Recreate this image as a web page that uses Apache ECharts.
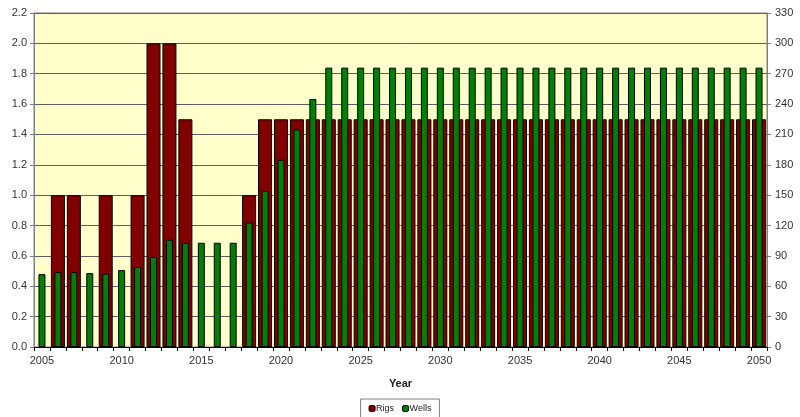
<!DOCTYPE html>
<html>
<head>
<meta charset="utf-8">
<script src="https://cdn.jsdelivr.net/npm/echarts@6/dist/echarts.min.js"></script>
<style>html,body{margin:0;padding:0;background:#fff}#c{width:800px;height:417px}</style>
</head>
<body>
<div id="c"></div>
<script>
var years = [];
for (var y = 2005; y <= 2050; y++) years.push(String(y));
var rigs = [0,1,1,0,1,0,1,2,2,1.5,0,0,0,1,1.5,1.5,1.5,1.5,1.5,1.5,1.5,1.5,1.5,1.5,1.5,1.5,1.5,1.5,1.5,1.5,1.5,1.5,1.5,1.5,1.5,1.5,1.5,1.5,1.5,1.5,1.5,1.5,1.5,1.5,1.5,1.5];
var wells = [72,74,74,73,72.5,76,79,89,106,103,103,103,103,123,154,185,215,245,276,276,276,276,276,276,276,276,276,276,276,276,276,276,276,276,276,276,276,276,276,276,276,276,276,276,276,276];
var leftTicks = {min:0, max:2.2, interval:0.2};
var rightTicks = {min:0, max:330, interval:30};

var font = 'Liberation Sans, Arial, sans-serif';
var chart = echarts.init(document.getElementById('c'), null, {renderer:'canvas'});
chart.setOption({
  animation:false,
  backgroundColor:'#ffffff',
  grid:{left:34, right:33, top:13, bottom:70, show:true, backgroundColor:'#FFFFCC', borderColor:'#808080', borderWidth:1},
  legend:{
    bottom:-4, left:'center', itemWidth:6, itemHeight:6, itemGap:8,
    borderColor:'#808080', borderWidth:1, padding:[5,8,8,8],
    textStyle:{fontFamily:font, fontSize:9, color:'#222', padding:[0,0,0,-4]},
    data:[{name:'Rigs', itemStyle:{color:'#800000', borderColor:'#000', borderWidth:1}},{name:'Wells', itemStyle:{color:'#008000', borderColor:'#000', borderWidth:1}}]
  },
  xAxis:[
    {type:'category', data:years, boundaryGap:true,
     name:'Year', nameLocation:'middle', nameGap:31,
     nameTextStyle:{fontFamily:font, fontSize:11, fontWeight:'bold', color:'#222'},
     axisLine:{lineStyle:{color:'#000', width:1}},
     axisTick:{show:true, interval:0, length:4, lineStyle:{color:'#000'}},
     axisLabel:{interval:4, fontFamily:font, fontSize:11, color:'#333', margin:8},
     splitLine:{show:false}},
    {type:'category', data:years, show:false, boundaryGap:true}
  ],
  yAxis:[
    {type:'value', min:leftTicks.min, max:leftTicks.max, interval:leftTicks.interval, position:'left',
     axisLine:{show:true, lineStyle:{color:'#808080'}},
     axisTick:{show:true, length:4, lineStyle:{color:'#808080'}},
     axisLabel:{fontFamily:font, fontSize:11, color:'#333', margin:7, formatter:function(v){return v.toFixed(1);}},
     splitLine:{show:true, lineStyle:{color:'#5e5e5e', width:1}}},
    {type:'value', min:rightTicks.min, max:rightTicks.max, interval:rightTicks.interval, position:'right',
     axisLine:{show:true, lineStyle:{color:'#808080'}},
     axisTick:{show:true, length:4, lineStyle:{color:'#808080'}},
     axisLabel:{fontFamily:font, fontSize:11, color:'#333', margin:8},
     splitLine:{show:false}}
  ],
  series:[
    {name:'Rigs', type:'bar', data:rigs.map(function(v){return v === 0 ? '-' : v;}), xAxisIndex:0, yAxisIndex:0, barWidth:14,
     itemStyle:{color:'#800000', borderColor:'#000', borderWidth:1}, z:2},
    {name:'Wells', type:'bar', data:wells, xAxisIndex:1, yAxisIndex:1, barWidth:7,
     itemStyle:{color:'#008000', borderColor:'#000', borderWidth:1}, z:3}
  ]
});
</script>
</body>
</html>
